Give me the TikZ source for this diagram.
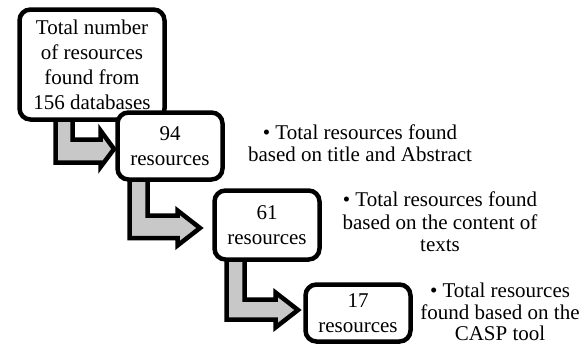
\documentclass[tikz,border=0pt]{standalone}
\usepackage{fontspec}
\setmainfont{Liberation Serif}
\usetikzlibrary{calc,backgrounds}
\definecolor{arrgray}{RGB}{200,200,200}
\tikzset{
  stepbox/.style={draw=black, line width=4.5pt, rounded corners=11pt, fill=white,
    inner sep=0pt, outer sep=0pt, align=center, font=\fontsize{21}{24.5}\selectfont},
  blockarr/.style={draw=black, line width=4.5pt, fill=arrgray, line join=miter},
  note/.style={align=center, inner sep=0pt, font=\fontsize{21}{22.5}\selectfont}
}
\begin{document}
\begin{tikzpicture}[x=1pt, y=-1pt]
\useasboundingbox (0,0) rectangle (587,346);

\node[stepbox, minimum width=145pt, minimum height=110pt,
  font=\fontsize{21}{25}\selectfont] (box1) at (92,64.5)
  {Total number\\of resources\\found from\\156 databases};
\node[stepbox, minimum width=105pt, minimum height=67pt] (box2) at (170,146)
  {94\\resources};
\node[stepbox, minimum width=105pt, minimum height=69pt] (box3) at (267,225)
  {61\\resources};
\node[stepbox, minimum width=105pt, minimum height=57pt] (box4) at (358,313)
  {17\\resources};

\begin{pgfonlayer}{background}
\draw[blockarr]
  ($(box1.south west)+(36,0)$) |- ($(box2.west)+(-17,16.5)$)
  -- ($(box2.west)+(-17,21)$) -- ($(box2.west)+(-3.5,3)$)
  -- ($(box2.west)+(-17,-15.5)$) -- ($(box2.west)+(-17,-6.5)$)
  -| ($(box1.south west)+(53,0)$) -- cycle;
\draw[blockarr]
  ($(box2.south west)+(12,0)$) |- ($(box3.west)+(-37,13)$)
  -- ($(box3.west)+(-37,20.5)$) -- ($(box3.west)+(-14.5,3)$)
  -- ($(box3.west)+(-37,-14.5)$) -- ($(box3.west)+(-37,-9.5)$)
  -| ($(box2.south west)+(30,0)$) -- cycle;
\draw[blockarr]
  ($(box3.south west)+(12,0)$) |- ($(box4.west)+(-30,6.5)$)
  -- ($(box4.west)+(-30,14.5)$) -- ($(box4.west)+(-7.5,-3)$)
  -- ($(box4.west)+(-30,-20.5)$) -- ($(box4.west)+(-30,-13.5)$)
  -| ($(box3.south west)+(30,0)$) -- cycle;
\end{pgfonlayer}

\node[note] (t1) at (360,143) {• Total resources found\\based on title and Abstract};
\node[note] (t2) at (440,222) {• Total resources found\\based on the content of\\texts};
\node[note, font=\fontsize{21}{21.5}\selectfont] (t3) at (500,312) {• Total resources\\found based on the\\CASP tool};
\end{tikzpicture}
\end{document}
